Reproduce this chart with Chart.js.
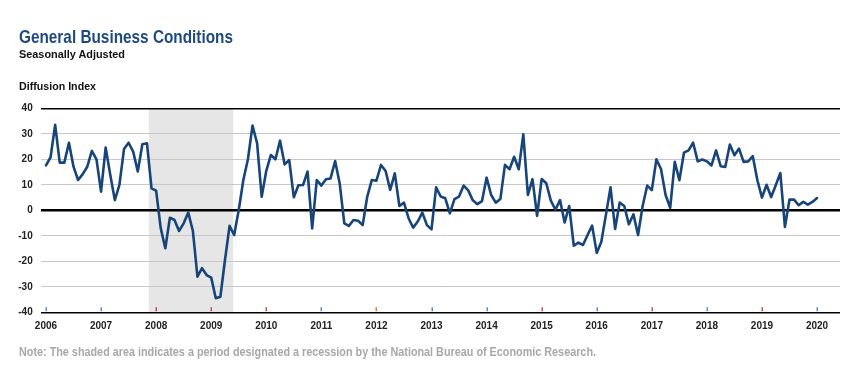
<!DOCTYPE html>
<html><head><meta charset="utf-8">
<script src="https://cdn.jsdelivr.net/npm/chart.js@4.4.1/dist/chart.umd.min.js"></script>
<style>
html,body{margin:0;padding:0;background:#fff;width:854px;height:367px;overflow:hidden;}
#wrap{position:relative;width:854px;height:367px;}
canvas{position:absolute;left:0;top:0;}
.t{position:absolute;left:19px;white-space:nowrap;transform-origin:0 0;font-family:'Liberation Sans Narrow','Liberation Sans',Arial,sans-serif;}
</style></head><body>
<div id="wrap">
<canvas id="c" width="854" height="367"></canvas>
<div class="t" id="title" style="top:28.3px;font-size:18.5px;line-height:18.5px;font-weight:bold;color:#1e4a80;">General Business Conditions</div>
<div class="t" id="sub" style="top:47.8px;font-size:11.7px;line-height:11.7px;font-weight:bold;color:#111;">Seasonally Adjusted</div>
<div class="t" id="ytitle" style="top:79.5px;font-size:11.6px;line-height:11.6px;font-weight:bold;color:#111;">Diffusion Index</div>
<div class="t" id="note" style="top:346px;font-size:12px;line-height:12px;font-weight:bold;color:#a8a8a8;">Note: The shaded area indicates a period designated a recession by the National Bureau of Economic Research.</div>
</div>
<script>
// Year tick labels
const years = ['2006','2007','2008','2009','2010','2011','2012','2013','2014','2015','2016','2017','2018','2019','2020'];
// Monthly diffusion index values, one array per year
const v2006 = [17.6, 20.8, 33.5, 18.7, 18.7, 26.5, 17.1, 11.9, 14.2, 17.1, 23.3, 20.0];
const v2007 = [7.3, 24.6, 14.0, 4.0, 10.0, 24.0, 26.5, 23.0, 15.2, 25.9, 26.3, 8.6];
const v2008 = [7.7, -7.0, -14.9, -2.9, -3.8, -8.1, -5.1, -0.9, -8.0, -26.0, -22.7, -25.4];
const v2009 = [-26.4, -34.5, -33.9, -19.5, -6.1, -9.7, 0.1, 11.9, 20.0, 33.2, 26.3, 5.3];
const v2010 = [15.5, 21.7, 20.0, 27.3, 18.0, 19.7, 5.1, 9.8, 9.9, 15.2, -7.1, 11.9];
const v2011 = [9.7, 12.2, 12.5, 19.3, 10.5, -5.1, -6.1, -3.8, -4.1, -5.8, 5.4, 11.9];
const v2012 = [11.6, 17.8, 15.4, 8.0, 14.5, 1.7, 3.0, -3.1, -6.8, -4.4, -0.9, -5.8];
const v2013 = [-7.5, 9.0, 5.4, 4.7, -1.2, 4.4, 5.4, 9.7, 7.8, 3.9, 2.4, 3.6];
const v2014 = [12.8, 6.0, 3.0, 4.4, 17.8, 16.1, 21.0, 16.1, 29.8, 6.0, 12.2, -2.2];
const v2015 = [12.3, 10.6, 3.8, 0.2, 4.0, -4.8, 1.7, -13.9, -12.7, -13.6, -9.7, -6.0];
const v2016 = [-16.7, -12.3, -1.8, 9.0, -7.3, 3.0, 1.7, -5.5, -1.6, -9.7, 1.7, 9.7];
const v2017 = [7.9, 20.0, 16.2, 6.0, 1.0, 19.0, 11.8, 22.6, 23.5, 26.5, 19.2, 19.9];
const v2018 = [19.2, 17.6, 23.5, 17.3, 17.0, 25.8, 21.6, 24.2, 19.0, 19.2, 21.2, 11.8];
const v2019 = [5.0, 10.0, 5.2, 9.8, 14.6, -6.5, 4.2, 4.2, 2.0, 3.3, 2.2, 3.3];
const v2020 = [4.8];
// Recession (NBER) in month index from Jan 2006
const recessionStart = 22.4;
const recessionEnd = 40.8;
const yTicks = [-40, -30, -20, -10, 0, 10, 20, 30, 40];

const values = [].concat(v2006,v2007,v2008,v2009,v2010,v2011,v2012,v2013,v2014,v2015,v2016,v2017,v2018,v2019,v2020);
const points = values.map((v,i)=>({x:i,y:v}));

const tickColors = ['#5b8fc7','#5b8fc7','#c0504d','#c0504d','#c0504d','#5b8fc7','#d9822b','#5b8fc7','#5b8fc7','#c0504d','#5b8fc7','#c0504d','#5b8fc7','#c0504d','#5b8fc7'];

const recessionPlugin = {
  id:'recession',
  beforeDraw(chart){
    const {ctx, chartArea:a, scales:{x}} = chart;
    const x0 = x.getPixelForValue(recessionStart), x1 = x.getPixelForValue(recessionEnd);
    ctx.save(); ctx.fillStyle='#e6e6e6'; ctx.fillRect(x0, a.top, x1-x0, a.bottom-a.top); ctx.restore();
  }
};
const yearTickPlugin = {
  id:'yearTicks',
  afterDatasetsDraw(chart){
    const {ctx, chartArea:a, scales:{x}} = chart;
    ctx.save(); ctx.lineWidth=1.5;
    years.forEach((y,i)=>{
      const px = Math.round(x.getPixelForValue(i*12))+0.25;
      ctx.strokeStyle = tickColors[i];
      ctx.beginPath(); ctx.moveTo(px, a.bottom-1); ctx.lineTo(px, a.bottom-5); ctx.stroke();
    });
    ctx.restore();
  }
};

const tickFont = {family:"'Liberation Sans', Arial, sans-serif", size:10, weight:'bold'};
new Chart(document.getElementById('c'), {
  type:'line',
  data:{datasets:[{data:points, borderColor:'#17457a', borderWidth:2.6, pointRadius:0, pointHoverRadius:0, tension:0, fill:false, borderJoinStyle:'round', borderCapStyle:'round'}]},
  options:{
    responsive:false, animation:false, devicePixelRatio:1,
    layout:{padding:{left:0, right:14, top:108.3, bottom:29.7}},
    plugins:{legend:{display:false}, tooltip:{enabled:false}},
    scales:{
      x:{type:'linear', min:-1.15, max:173,
        afterBuildTicks:s=>{ s.ticks = years.map((y,i)=>({value:i*12})); },
        afterFit:s=>{ s.height = 25; },
        ticks:{callback:(v)=>years[Math.round(v/12)], font:tickFont, color:'#222', padding:8, maxRotation:0, autoSkip:false},
        grid:{display:false, drawTicks:false}, border:{display:false}
      },
      y:{min:-40, max:40,
        afterBuildTicks:s=>{ s.ticks = yTicks.map(v=>({value:v})); },
        afterFit:s=>{ s.width = 40.7; },
        ticks:{font:tickFont, color:'#222', padding:8},
        grid:{drawTicks:false,
          color:c=>{const v=c.tick&&c.tick.value; return (v===0||v===40||v===-40)?'#000':'#c8c8c8';},
          lineWidth:c=>{const v=c.tick&&c.tick.value; return v===0?2.4:((v===40||v===-40)?1.4:1);}
        },
        border:{display:false}
      }
    }
  },
  plugins:[recessionPlugin, yearTickPlugin]
});

function fitW(id, target){const el=document.getElementById(id); const w=el.getBoundingClientRect().width; if(w>0) el.style.transform='scaleX('+(target/w)+')';}
fitW('title',214); fitW('sub',106); fitW('ytitle',77); fitW('note',577);
</script>
</body></html>
